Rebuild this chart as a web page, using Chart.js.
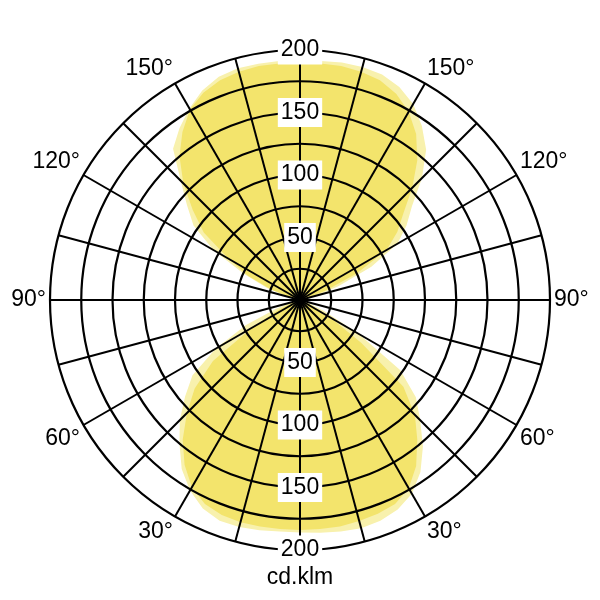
<!DOCTYPE html>
<html>
<head>
<meta charset="utf-8">
<script src="https://cdn.jsdelivr.net/npm/chart.js@4/dist/chart.umd.min.js"></script>
<style>
  html, body { margin: 0; padding: 0; background: #fff; }
  #wrap { width: 600px; height: 600px; }
</style>
</head>
<body>
<div id="wrap"><canvas id="chart"></canvas></div>
<script>
// gamma angles 0..180 in 5 degree steps, 0 = down, 180 = up
const gammaAngles = [0, 5, 10, 15, 20, 25, 30, 35, 40, 45, 50, 55, 60, 65, 70, 75, 80, 85, 90,
    95, 100, 105, 110, 115, 120, 125, 130, 135, 140, 145, 150, 155, 160, 165, 170, 175, 180]

// intensity in cd/klm per gamma angle, right and left half of each plane
const c0Values = [184, 184, 184, 183, 182, 180, 174, 162, 146, 130, 108, 60, 28, 10, 3, 0, 0, 0, 0,
    0, 2, 7, 22, 50, 80, 95, 108, 127, 146, 162, 174, 182, 187, 189, 190, 190, 190]
const c180Values = [184, 184, 184, 184, 183, 180, 173, 161, 146, 128, 110, 85, 45, 20, 6, 2, 0, 0, 0,
    0, 2, 8, 25, 46, 66, 94, 112, 132, 150, 164, 176, 183, 187, 189, 190, 190, 190]
const c90Values = [186, 187, 188, 189, 188, 185, 179, 168, 153, 136, 121, 98, 55, 22, 8, 2, 0, 0, 0,
    0, 4, 15, 33, 63, 90, 104, 117, 138, 157, 170, 181, 188, 192, 193, 193, 192, 192]
const c270Values = [186, 186, 187, 188, 188, 184, 176, 165, 150, 136, 120, 105, 78, 48, 20, 7, 2, 0, 0,
    0, 3, 10, 28, 50, 80, 104, 118, 135, 158, 168, 177, 185, 190, 192, 192, 192, 192]

const degreeTicks = [150, 120, 90, 60, 30]
const unitLabel = 'cd.klm'

const fontFamily = '"Liberation Sans", Arial, sans-serif'
const fontSize = 23

// radar runs clockwise from the top: right half goes 180 -> 0, left half 0 -> 180
const last = gammaAngles.length - 1
const labels = []
for (let i = 0; i < last * 2; i++) {
    labels.push(i <= last ? gammaAngles[last - i] : gammaAngles[i - last])
}

function around(right, left) {
    return labels.map((g, i) => (i <= last ? right[last - i] : left[i - last]))
}

function indexForGamma(g, side) {
    const k = gammaAngles.indexOf(g)
    return side === 'right' ? last - k : last + k
}

const extraLabels = {
    id: 'extraLabels',
    afterDraw(chart) {
        const r = chart.scales.r
        const ctx = chart.ctx
        ctx.save()
        ctx.font = fontSize + 'px ' + fontFamily

        // value labels along the downward axis
        r.ticks.forEach((t) => {
            if (t.value === 0 || t.value % 50 !== 0) return
            const p = r.getPointPositionForValue(last, t.value)
            const w = ctx.measureText(t.label).width
            ctx.fillStyle = '#fff'
            ctx.fillRect(p.x - w / 2 - 3, p.y - fontSize / 2 - 3, w + 6, fontSize + 6)
            ctx.fillStyle = '#000'
            ctx.textAlign = 'center'
            ctx.textBaseline = 'middle'
            ctx.fillText(t.label, p.x, p.y)
        })

        // angle labels outside the circle
        ctx.fillStyle = '#000'
        ;['right', 'left'].forEach((side) => {
            degreeTicks.forEach((g) => {
                const idx = indexForGamma(g, side)
                const a = r.getIndexAngle(idx)
                const p = r.getPointPosition(idx, r.drawingArea + 4)
                const s = Math.sin(a)
                const c = Math.cos(a)
                ctx.textAlign = Math.abs(s) < 0.05 ? 'center' : s > 0 ? 'left' : 'right'
                ctx.textBaseline = Math.abs(c) < 0.05 ? 'middle' : c > 0 ? 'bottom' : 'top'
                ctx.fillText(g + '°', p.x, p.y)
            })
        })

        ctx.textAlign = 'center'
        ctx.textBaseline = 'middle'
        ctx.fillText(unitLabel, r.xCenter, r.yCenter + r.drawingArea + 28)
        ctx.restore()
    },
}

new Chart(document.getElementById('chart'), {
    type: 'radar',
    data: {
        labels: labels,
        datasets: [
            {
                label: 'C0-C180',
                data: around(c0Values, c180Values),
                backgroundColor: '#f3e46c',
                borderWidth: 0,
                pointRadius: 0,
                fill: 'origin',
            },
            {
                label: 'C90-C270',
                data: around(c90Values, c270Values),
                backgroundColor: '#f8f1ad',
                borderWidth: 0,
                pointRadius: 0,
                fill: 'origin',
            },
        ],
    },
    options: {
        responsive: true,
        maintainAspectRatio: false,
        animation: false,
        layout: { padding: 35 },
        elements: { line: { tension: 0 } },
        plugins: {
            legend: { display: false },
            tooltip: { enabled: false },
        },
        scales: {
            r: {
                min: 0,
                max: 200,
                grid: { circular: true, color: '#000', lineWidth: 2.2, z: 1 },
                angleLines: {
                    display: true,
                    color: '#000',
                    lineWidth: (ctx) => (ctx.index % 3 === 0 ? 2 : 0),
                },
                pointLabels: { display: false },
                ticks: {
                    z: 2,
                    stepSize: 25,
                    color: '#000',
                    font: { family: fontFamily, size: fontSize },
                    backdropColor: '#fff',
                    backdropPadding: { x: 3, y: 3 },
                    showLabelBackdrop: (ctx) => ctx.tick && ctx.tick.value % 50 === 0,
                    callback: (v) => (v % 50 === 0 ? String(v) : ''),
                },
            },
        },
    },
    plugins: [extraLabels],
})
</script>
</body>
</html>
